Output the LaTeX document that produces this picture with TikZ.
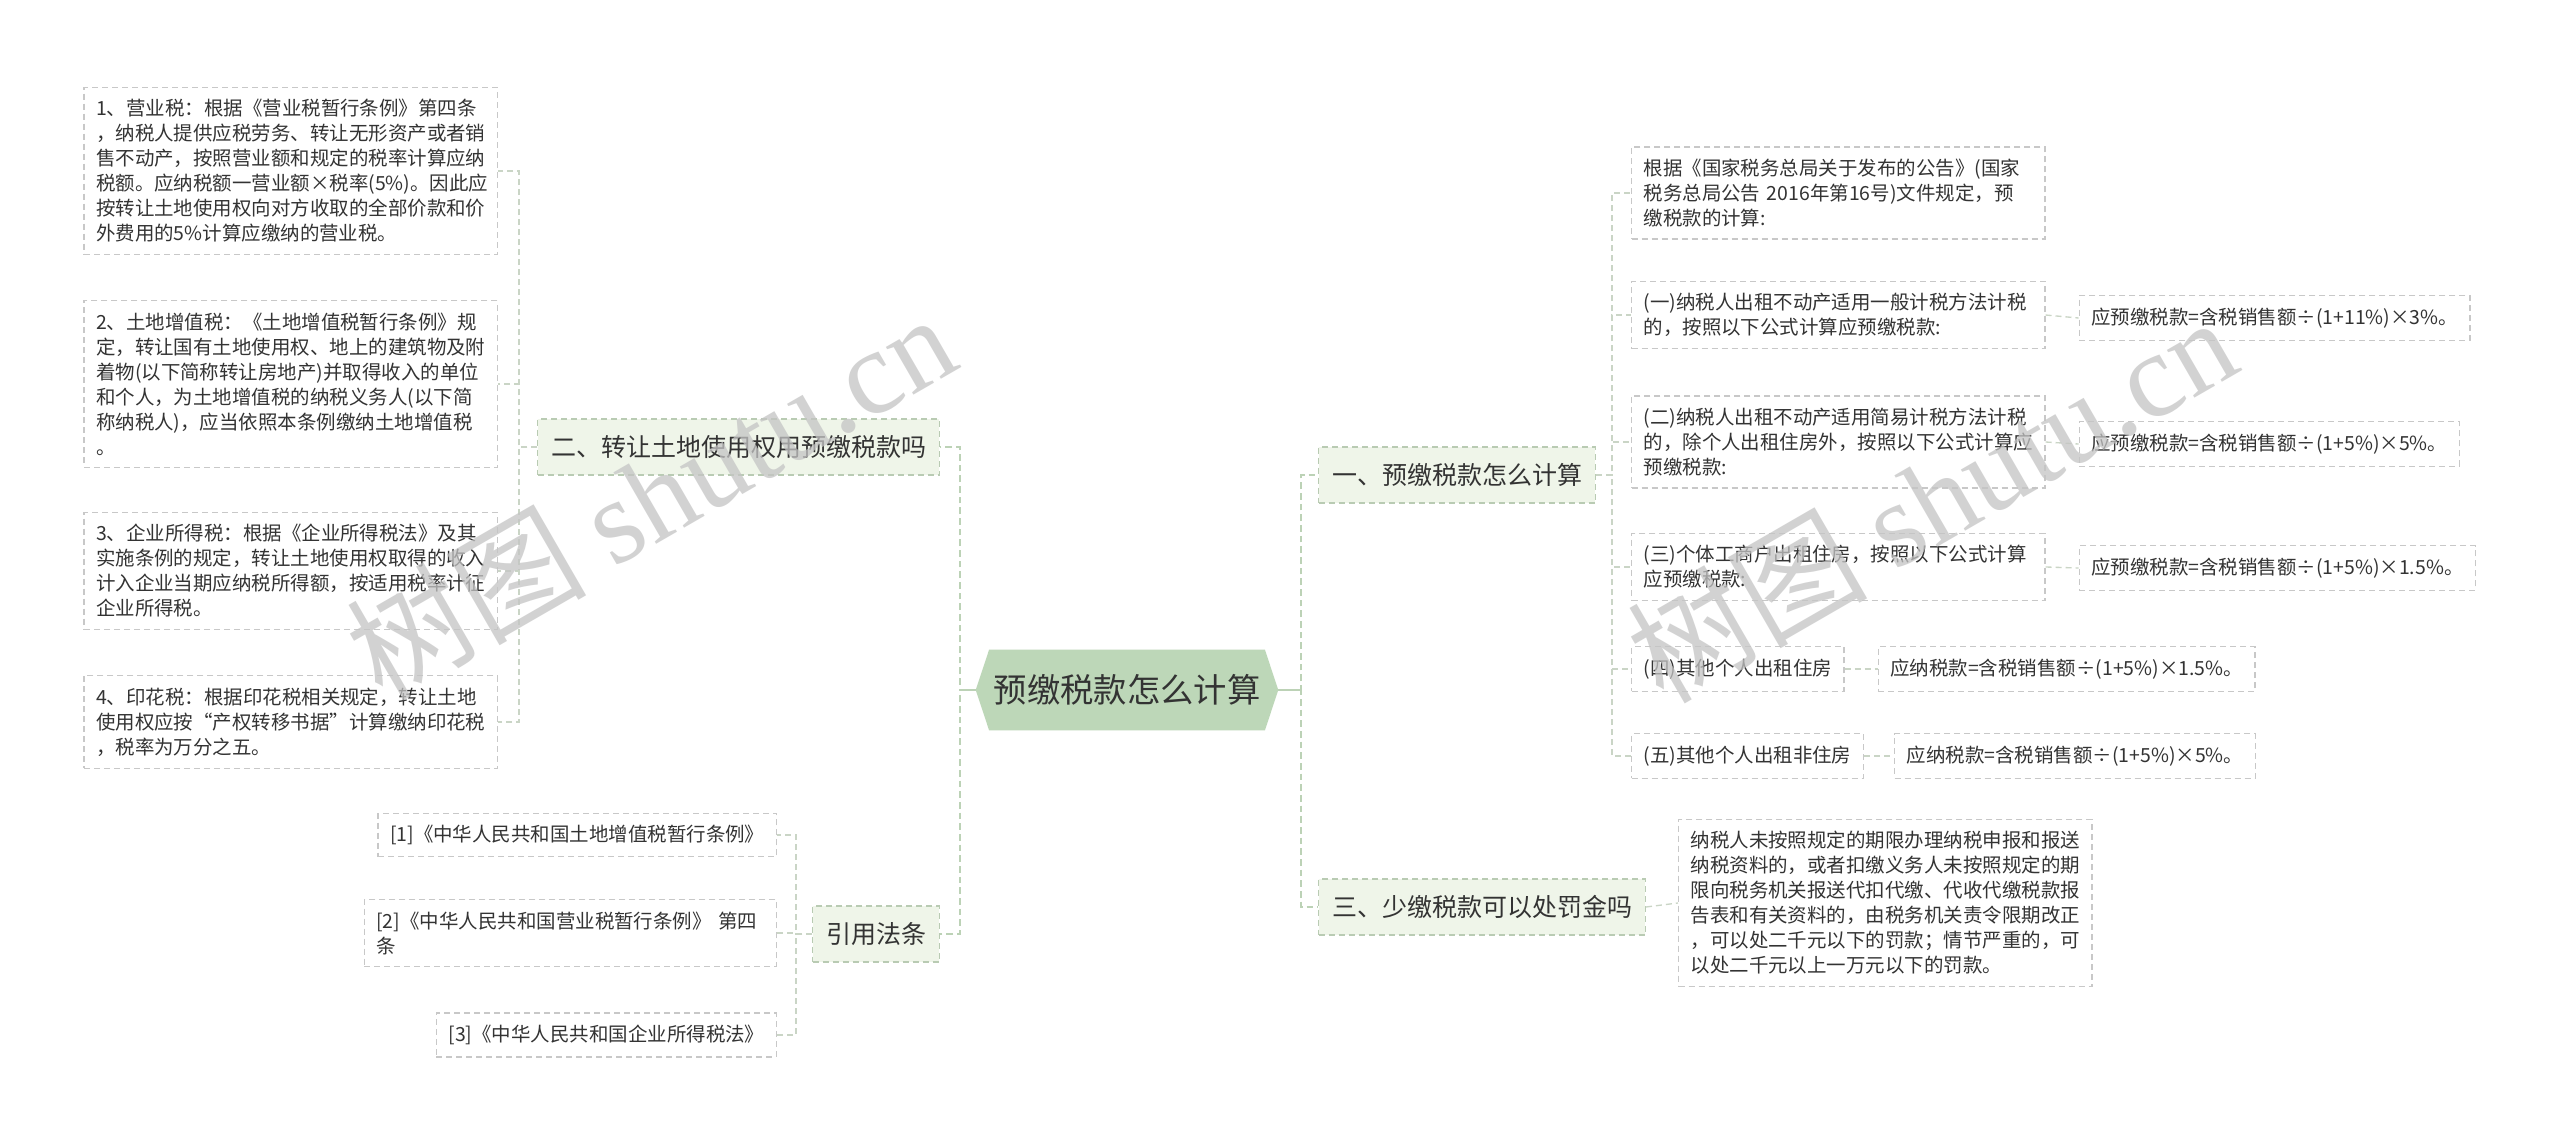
\documentclass[tikz,border=0pt]{standalone}
\usepackage{fontspec}
\setmainfont{Noto Sans CJK SC}
\newfontfamily\wmserif{Liberation Serif}
\usetikzlibrary{calc}
\pgfdeclarelayer{background}
\pgfsetlayers{background,main}
\definecolor{txt}{HTML}{333333}
\definecolor{leafline}{HTML}{C8C8C8}
\definecolor{lvlfill}{HTML}{EFF5E9}
\definecolor{lvlline}{HTML}{B9CBB3}
\definecolor{rootfill}{HTML}{BDD7B8}
\definecolor{connA}{HTML}{BCD2B6}
\definecolor{connB}{HTML}{CAD5C6}
\definecolor{wmgray}{HTML}{C4C4C4}
\begin{document}
\begin{tikzpicture}[x=0.75pt,y=-0.75pt,
  leaf/.style={draw=leafline, dash pattern=on 4.5pt off 3pt, line width=0.9pt, text=txt,
    font=\fontsize{14.6pt}{18.75pt}\selectfont, inner xsep=9pt, inner ysep=9pt, align=left},
  leafw/.style={leaf, text width=292pt},
  lvl/.style={draw=lvlline, fill=lvlfill, dash pattern=on 4.5pt off 3pt, line width=1pt, text=txt,
    font=\fontsize{18.75pt}{22pt}\selectfont, inner xsep=10pt, minimum height=42pt},
  connmain/.style={draw=connA, line width=1.8pt, dash pattern=on 5pt off 3pt},
  connsub/.style={draw=connB, line width=1pt, dash pattern=on 4.5pt off 3pt},
  wmark/.style={text=wmgray, opacity=0.75, rotate=30, font=\fontsize{90pt}{90pt}\selectfont},
]
\useasboundingbox (0,0) rectangle (2560,1142);

% root
\node[text=txt, font=\fontsize{25pt}{30pt}\selectfont, minimum width=226.5pt, minimum height=60pt, inner sep=0pt] (root) at (1127,690) {预缴税款怎么计算};
\begin{pgfonlayer}{background}
\fill[white] (0,0) rectangle (2560,1142);
\fill[rootfill] (root.west) -- ([xshift=10pt]root.north west) -- ([xshift=-10pt]root.north east) -- (root.east) -- ([xshift=-10pt]root.south east) -- ([xshift=10pt]root.south west) -- cycle;
\end{pgfonlayer}

% level 1
\node[lvl, anchor=west] (n1) at (1318,475) {一、预缴税款怎么计算};
\node[lvl, anchor=west] (n3) at (1318,907) {三、少缴税款可以处罚金吗};
\node[lvl, anchor=east] (n2) at (940,447) {二、转让土地使用权用预缴税款吗};
\node[lvl, anchor=east] (n4) at (940,934) {引用法条};

% right children
\node[leafw, anchor=west] (c0) at (1631,193) {根据《国家税务总局关于发布的公告》(国家\\税务总局公告 2016年第16号)文件规定，预\\缴税款的计算:};
\node[leafw, anchor=west] (c1) at (1631,315) {(一)纳税人出租不动产适用一般计税方法计税\\的，按照以下公式计算应预缴税款:};
\node[leafw, anchor=west] (c2) at (1631,442) {(二)纳税人出租不动产适用简易计税方法计税\\的，除个人出租住房外，按照以下公式计算应\\预缴税款:};
\node[leafw, anchor=west] (c3) at (1631,567) {(三)个体工商户出租住房，按照以下公式计算\\应预缴税款:};
\node[leaf, anchor=west] (c4) at (1631,669) {(四)其他个人出租住房};
\node[leaf, anchor=west] (c5) at (1631,756) {(五)其他个人出租非住房};

\node[leaf, anchor=west] (f1) at ($(c1.east)+(33,3)$) {应预缴税款=含税销售额÷(1+11\%)×3\%。};
\node[leaf, anchor=west] (f2) at ($(c2.east)+(33,2)$) {应预缴税款=含税销售额÷(1+5\%)×5\%。};
\node[leaf, anchor=west] (f3) at ($(c3.east)+(33,1)$) {应预缴税款=含税销售额÷(1+5\%)×1.5\%。};
\node[leaf, anchor=west] (f4) at ($(c4.east)+(33,0)$) {应纳税款=含税销售额÷(1+5\%)×1.5\%。};
\node[leaf, anchor=west] (f5) at ($(c5.east)+(30,0)$) {应纳税款=含税销售额÷(1+5\%)×5\%。};

\node[leafw, anchor=west] (p) at (1678,903) {纳税人未按照规定的期限办理纳税申报和报送\\纳税资料的，或者扣缴义务人未按照规定的期\\限向税务机关报送代扣代缴、代收代缴税款报\\告表和有关资料的，由税务机关责令限期改正\\，可以处二千元以下的罚款；情节严重的，可\\以处二千元以上一万元以下的罚款。};

% left children
\node[leafw, anchor=east] (l1) at (498,171) {1、营业税：根据《营业税暂行条例》第四条\\，纳税人提供应税劳务、转让无形资产或者销\\售不动产，按照营业额和规定的税率计算应纳\\税额。应纳税额一营业额×税率(5\%)。因此应\\按转让土地使用权向对方收取的全部价款和价\\外费用的5\%计算应缴纳的营业税。};
\node[leafw, anchor=east] (l2) at (498,384) {2、土地增值税：《土地增值税暂行条例》规\\定，转让国有土地使用权、地上的建筑物及附\\着物(以下简称转让房地产)并取得收入的单位\\和个人，为土地增值税的纳税义务人(以下简\\称纳税人)，应当依照本条例缴纳土地增值税\\。};
\node[leafw, anchor=east] (l3) at (498,571) {3、企业所得税：根据《企业所得税法》及其\\实施条例的规定，转让土地使用权取得的收入\\计入企业当期应纳税所得额，按适用税率计征\\企业所得税。};
\node[leafw, anchor=east] (l4) at (498,722) {4、印花税：根据印花税相关规定，转让土地\\使用权应按“产权转移书据”计算缴纳印花税\\，税率为万分之五。};

\node[leaf, anchor=east] (r1) at (777,835) {[1]《中华人民共和国土地增值税暂行条例》};
\node[leaf, anchor=east, text width=291pt] (r2) at (777,933) {[2]《中华人民共和国营业税暂行条例》 第四\\条};
\node[leaf, anchor=east] (r3) at (777,1035) {[3]《中华人民共和国企业所得税法》};

% connectors
\draw[connmain] (root.east) -- ++(23,0) |- (n1.west);
\draw[connmain] (root.east) -- ++(23,0) |- (n3.west);
\draw[connmain] (root.west) -- ++(-16,0) |- (n2.east);
\draw[connmain] (root.west) -- ++(-16,0) |- (n4.east);
\draw[connA, line width=2.2pt] (root.east) -- ++(23,0);
\draw[connA, line width=2.2pt] (root.west) -- ++(-16,0);

\foreach \c in {c0,c1,c2,c3,c4,c5}
  \draw[connsub] (n1.east) -- ++(16,0) |- (\c.west);
\draw[connsub] (c1.east) -- (f1.west);
\draw[connsub] (c2.east) -- (f2.west);
\draw[connsub] (c3.east) -- (f3.west);
\draw[connsub] (c4.east) -- (f4.west);
\draw[connsub] (c5.east) -- (f5.west);
\draw[connsub] (n3.east) -- (p.west);

\foreach \c in {l1,l2,l3,l4}
  \draw[connsub] (n2.west) -- ++(-18,0) |- (\c.east);
\foreach \c in {r1,r2,r3}
  \draw[connsub] (n4.west) -- ++(-16,0) |- (\c.east);

% watermarks
\node[wmark] (wm1) at (650,495) {树图 {\wmserif shutu.cn}};
\node[wmark] (wm2) at (1931,498) {树图 {\wmserif shutu.cn}};
\end{tikzpicture}
\end{document}
